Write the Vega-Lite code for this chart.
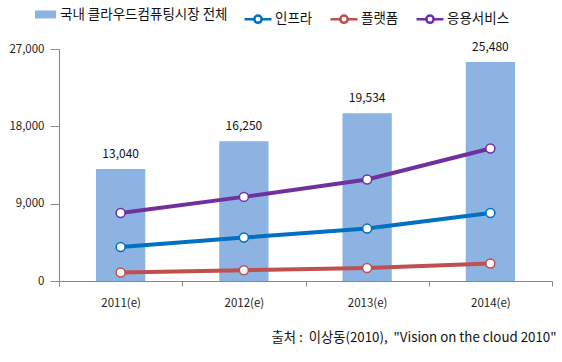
{
  "$schema": "https://vega.github.io/schema/vega-lite/v6.json",
  "width": 493,
  "height": 232,
  "autosize": {"type": "none"},
  "padding": {"left": 59, "top": 49, "right": 10, "bottom": 81},
  "background": "white",
  "config": {
    "view": {"stroke": null},
    "font": "Noto Sans CJK KR",
    "axis": {"grid": false, "domainColor": "#888888", "tickColor": "#888888", "labelColor": "#222222", "labelFontSize": 11.5, "labelFont": "Noto Sans CJK KR"}
  },
  "title": {
    "text": "출처 :\u00a0 이상동(2010),\u00a0 \"Vision on the cloud 2010\"",
    "orient": "bottom",
    "anchor": "end",
    "fontSize": 13.3,
    "fontWeight": "normal",
    "color": "#111111",
    "font": "Noto Sans CJK KR",
    "offset": 22,
    "dx": 4
  },
  "datasets": {
    "bars": [
      {"year": "2011(e)", "series": "국내 클라우드컴퓨팅시장  전체", "value": 13040},
      {"year": "2012(e)", "series": "국내 클라우드컴퓨팅시장  전체", "value": 16250},
      {"year": "2013(e)", "series": "국내 클라우드컴퓨팅시장  전체", "value": 19534},
      {"year": "2014(e)", "series": "국내 클라우드컴퓨팅시장  전체", "value": 25480}
    ],
    "lines": [
      {"year": "2011(e)", "series": "인프라", "value": 3960},
      {"year": "2012(e)", "series": "인프라", "value": 5060},
      {"year": "2013(e)", "series": "인프라", "value": 6100},
      {"year": "2014(e)", "series": "인프라", "value": 7920},
      {"year": "2011(e)", "series": "플랫폼", "value": 990},
      {"year": "2012(e)", "series": "플랫폼", "value": 1250},
      {"year": "2013(e)", "series": "플랫폼", "value": 1515},
      {"year": "2014(e)", "series": "플랫폼", "value": 2030},
      {"year": "2011(e)", "series": "응용서비스", "value": 7920},
      {"year": "2012(e)", "series": "응용서비스", "value": 9790},
      {"year": "2013(e)", "series": "응용서비스", "value": 11810},
      {"year": "2014(e)", "series": "응용서비스", "value": 15420}
    ]
  },
  "encoding": {
    "x": {
      "field": "year", "type": "nominal",
      "scale": {"type": "band", "paddingInner": 0, "paddingOuter": 0},
      "axis": {"title": null, "labelAngle": 0, "tickSize": 5, "labelPadding": 11, "tickBand": "extent"}
    },
    "y": {
      "field": "value", "type": "quantitative",
      "scale": {"domain": [0, 27000], "nice": false},
      "axis": {"title": null, "values": [0, 9000, 18000, 27000], "format": ",.0f", "tickSize": 9, "labelPadding": 6}
    }
  },
  "layer": [
    {
      "data": {"name": "bars"},
      "mark": {"type": "bar", "width": {"band": 0.4}, "cornerRadius": 0},
      "encoding": {
        "fill": {
          "field": "series", "type": "nominal",
          "scale": {"range": ["#8DB3E2"]},
          "legend": {
            "title": null, "orient": "none", "legendX": -24, "legendY": -45,
            "symbolType": "M-1,-0.38H1V0.38H-1Z", "symbolSize": 441, "symbolStrokeWidth": 0,
            "labelFontSize": 13.5, "labelFont": "Noto Sans CJK KR", "labelColor": "#111111", "labelOffset": 4, "labelLimit": 400
          }
        }
      }
    },
    {
      "data": {"name": "bars"},
      "mark": {"type": "text", "baseline": "bottom", "dy": -8, "fontSize": 12, "color": "#111111", "font": "Noto Sans CJK KR"},
      "encoding": {
        "text": {"field": "value", "type": "quantitative", "format": ","}
      }
    },
    {
      "data": {"name": "lines"},
      "mark": {"type": "line", "strokeWidth": 4},
      "encoding": {
        "stroke": {
          "field": "series", "type": "nominal",
          "scale": {"domain": ["인프라", "플랫폼", "응용서비스"], "range": ["#0070C0", "#C0504D", "#7030A0"]},
          "legend": {
            "title": null, "orient": "none", "legendX": 184, "legendY": -45, "direction": "horizontal",
            "symbolType": "M-1,0H-0.27M0.27,0H1M0.27,0A0.27,0.27 0 1,1 -0.27,0A0.27,0.27 0 1,1 0.27,0",
            "symbolSize": 729, "symbolStrokeWidth": 2.5, "symbolFillColor": "white",
            "labelFontSize": 13.5, "labelFont": "Noto Sans CJK KR", "labelColor": "#111111", "labelOffset": 2, "columnPadding": 12
          }
        }
      }
    },
    {
      "data": {"name": "lines"},
      "mark": {"type": "point", "filled": true, "fill": "white", "size": 80, "strokeWidth": 1.5, "opacity": 1},
      "encoding": {
        "stroke": {"field": "series", "type": "nominal", "legend": null}
      }
    }
  ]
}
